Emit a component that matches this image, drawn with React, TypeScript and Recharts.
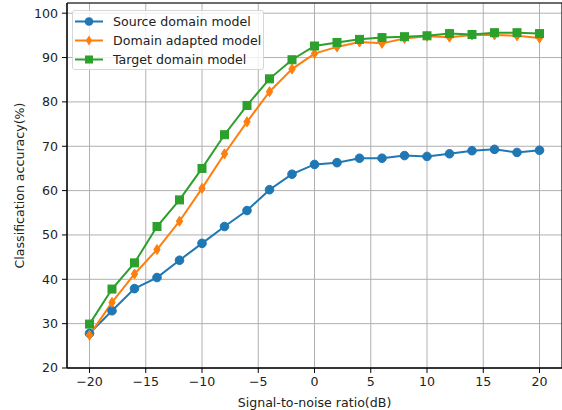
import { LineChart, Line, XAxis, YAxis, CartesianGrid, ReferenceArea } from 'recharts'

const snr = [-20, -18, -16, -14, -12, -10, -8, -6, -4, -2, 0, 2, 4, 6, 8, 10, 12, 14, 16, 18, 20]
const source = [27.8, 32.9, 37.9, 40.4, 44.3, 48.1, 51.9, 55.5, 60.2, 63.7, 65.9, 66.3, 67.3, 67.3, 67.9, 67.7, 68.3, 69.0, 69.3, 68.6, 69.1]
const adapted = [27.4, 34.8, 41.2, 46.7, 53.1, 60.5, 68.3, 75.5, 82.3, 87.4, 90.9, 92.4, 93.5, 93.2, 94.3, 94.8, 94.6, 95.1, 95.1, 94.9, 94.4]
const target = [29.9, 37.8, 43.7, 51.9, 57.9, 65.0, 72.6, 79.2, 85.2, 89.5, 92.6, 93.4, 94.1, 94.5, 94.7, 94.9, 95.4, 95.2, 95.6, 95.6, 95.4]
const xTicks = [-20, -15, -10, -5, 0, 5, 10, 15, 20]
const yTicks = [20, 30, 40, 50, 60, 70, 80, 90, 100]

const seriesNames = ['Source domain model', 'Domain adapted model', 'Target domain model']
const colors = ['#1f77b4', '#ff7f0e', '#2ca02c']

const data = snr.map((x, i) => ({ x, source: source[i], adapted: adapted[i], target: target[i] }))

const font = 'DejaVu Sans, sans-serif'
const fs = 12.6

const Circle = (p: any) => (
  <circle key={p.index} cx={p.cx} cy={p.cy} r={4.3} fill={colors[0]} stroke={colors[0]} />
)
const Diamond = (p: any) => (
  <path
    key={p.index}
    d={`M${p.cx},${p.cy - 5} L${p.cx + 3.2},${p.cy} L${p.cx},${p.cy + 5} L${p.cx - 3.2},${p.cy} Z`}
    fill={colors[1]}
    stroke={colors[1]}
  />
)
const Square = (p: any) => (
  <rect key={p.index} x={p.cx - 4} y={p.cy - 4} width={8} height={8} fill={colors[2]} stroke={colors[2]} />
)

function LegendBox() {
  const markers = [
    <circle cx={14} cy={0} r={4.3} fill={colors[0]} />,
    <path d="M14,-5 L17.2,0 L14,5 L10.8,0 Z" fill={colors[1]} />,
    <rect x={10} y={-4} width={8} height={8} fill={colors[2]} />,
  ]
  return (
    <div
      style={{
        position: 'absolute',
        left: 72,
        top: 10,
        width: 192,
        height: 60,
        boxSizing: 'border-box',
        background: 'rgba(255,255,255,0.8)',
        border: '1px solid #d6d6d6',
        borderRadius: 3,
        fontFamily: font,
        fontSize: fs,
        color: '#222',
      }}
    >
      {seriesNames.map((name, i) => (
        <div key={name} style={{ position: 'absolute', left: 2, top: 1 + i * 19, height: 19, display: 'flex', alignItems: 'center' }}>
          <svg width={30} height={19} style={{ overflow: 'visible' }}>
            <g transform="translate(0,9.5)">
              <line x1={0} y1={0} x2={28} y2={0} stroke={colors[i]} strokeWidth={2} />
              {markers[i]}
            </g>
          </svg>
          <span style={{ marginLeft: 8, whiteSpace: 'nowrap' }}>{name}</span>
        </div>
      ))}
    </div>
  )
}

export default function App() {
  return (
    <div style={{ position: 'absolute', left: 0, top: 0, width: 562, height: 410, background: '#fff' }}>
      <LineChart width={562} height={410} data={data} margin={{ top: 3, right: 0, left: 0, bottom: 0 }}>
        <CartesianGrid stroke="#b0b0b0" strokeWidth={1} />
        <XAxis
          dataKey="x"
          type="number"
          domain={[-22, 22]}
          ticks={xTicks}
          allowDataOverflow
          height={42}
          stroke="#000"
          tickSize={5}
          tickMargin={4}
          tick={{ fill: '#222', fontSize: fs, fontFamily: font }}
          tickFormatter={(v: number) => (v < 0 ? `\u2212${Math.abs(v)}` : `${v}`)}
          label={{ value: 'Signal-to-noise ratio(dB)', position: 'insideBottom', offset: 3, fill: '#222', fontSize: fs, fontFamily: font }}
        />
        <YAxis
          type="number"
          domain={[20, 102.3]}
          ticks={yTicks}
          allowDataOverflow
          width={67}
          stroke="#000"
          tickSize={5}
          tickMargin={4}
          tick={{ fill: '#222', fontSize: fs, fontFamily: font }}
          label={{ value: 'Classification accuracy(%)', angle: -90, position: 'insideLeft', offset: 20, fill: '#222', fontSize: fs, fontFamily: font, style: { textAnchor: 'middle' } }}
        />
        <ReferenceArea x1={-22} x2={22} y1={20} y2={102.3} fill="none" stroke="#000" strokeWidth={1} ifOverflow="visible" />
        <Line dataKey="source" stroke={colors[0]} strokeWidth={2} dot={Circle} isAnimationActive={false} />
        <Line dataKey="adapted" stroke={colors[1]} strokeWidth={2} dot={Diamond} isAnimationActive={false} />
        <Line dataKey="target" stroke={colors[2]} strokeWidth={2} dot={Square} isAnimationActive={false} />
      </LineChart>
      <LegendBox />
    </div>
  )
}
